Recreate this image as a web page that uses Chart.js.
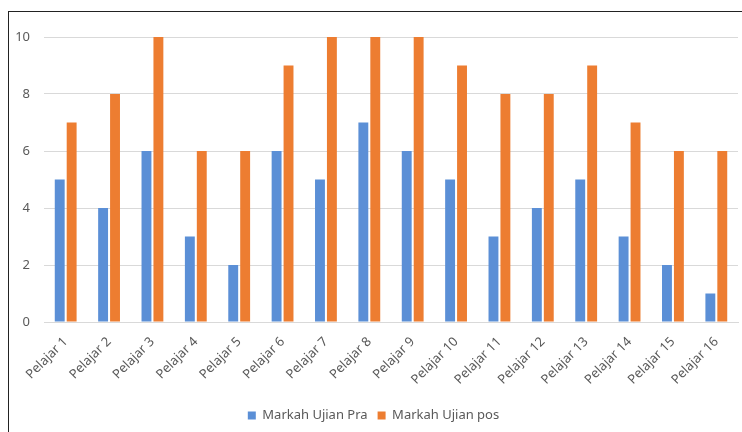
<!DOCTYPE html>
<html>
<head>
<meta charset="utf-8">
<script src="https://cdn.jsdelivr.net/npm/chart.js@4"></script>
<style>
  html, body { margin: 0; padding: 0; background: #fff; }
  #wrap { position: relative; width: 742px; height: 432px; }
  #frame { position: absolute; left: 8px; top: 11px; right: 0; bottom: 0; border-left: 1px solid #222; border-top: 1px solid #222; pointer-events: none; }
  canvas { position: absolute; left: 0; top: 0; }
</style>
</head>
<body>
<div id="wrap">
  <canvas id="chart" width="742" height="432"></canvas>
  <div id="frame"></div>
</div>
<script>
const labels = ['Pelajar 1', 'Pelajar 2', 'Pelajar 3', 'Pelajar 4', 'Pelajar 5', 'Pelajar 6', 'Pelajar 7', 'Pelajar 8',
  'Pelajar 9', 'Pelajar 10', 'Pelajar 11', 'Pelajar 12', 'Pelajar 13', 'Pelajar 14', 'Pelajar 15', 'Pelajar 16'];
const praScores = [5, 4, 6, 3, 2, 6, 5, 7, 6, 5, 3, 4, 5, 3, 2, 1];
const posScores = [7, 8, 10, 6, 6, 9, 10, 10, 10, 9, 8, 8, 9, 7, 6, 6];

const textColor = '#595959';
const gridColor = '#d9d9d9';
const font = { family: '"Noto Sans", sans-serif', size: 13 };

new Chart(document.getElementById('chart'), {
  type: 'bar',
  data: {
    labels,
    datasets: [
      { label: 'Markah Ujian Pra', data: praScores, backgroundColor: '#5b8fd6' },
      { label: 'Markah Ujian pos', data: posScores, backgroundColor: '#ed7d31' },
    ],
  },
  options: {
    responsive: false,
    animation: false,
    categoryPercentage: 0.55,
    barPercentage: 0.83,
    layout: { padding: { left: 9, right: 4, top: 37, bottom: 0 } },
    plugins: {
      tooltip: { enabled: false },
      legend: {
        position: 'bottom',
        labels: { boxWidth: 8, boxHeight: 8, color: textColor, font, padding: 10 },
      },
    },
    scales: {
      x: {
        grid: { display: false },
        border: { color: gridColor },
        ticks: { color: textColor, font, minRotation: 45, maxRotation: 45, padding: 4 },
        afterFit: scale => { scale.height = 77; },
      },
      y: {
        min: 0,
        max: 10,
        grid: { color: gridColor, drawTicks: false },
        border: { display: false },
        ticks: { stepSize: 2, color: textColor, font, padding: 14 },
        afterFit: scale => { scale.width = 35; },
      },
    },
  },
});
</script>
</body>
</html>
